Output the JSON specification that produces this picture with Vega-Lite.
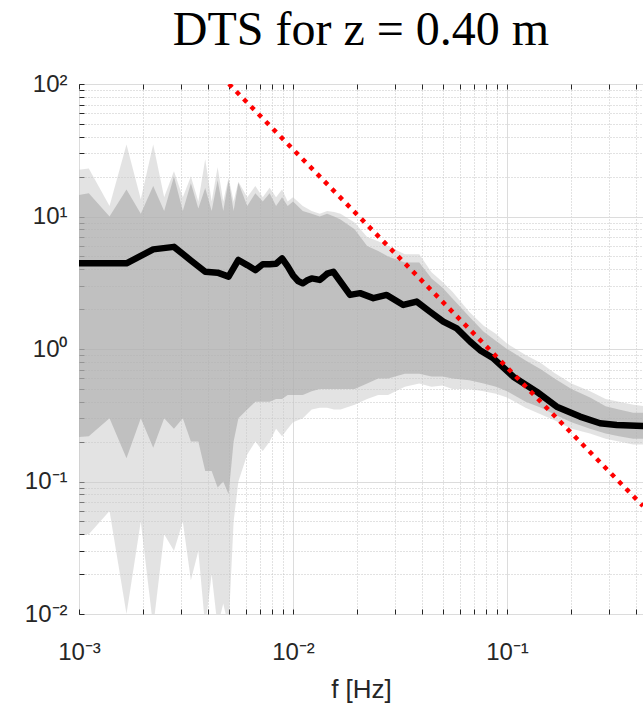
{
  "$schema": "https://vega.github.io/schema/vega-lite/v6.json",
  "width": 564,
  "height": 530,
  "autosize": "none",
  "padding": {"left": 79, "top": 84, "right": 0, "bottom": 92},
  "background": "white",
  "title": {"text": "DTS for z = 0.40 m", "font": "Liberation Serif", "fontSize": 48, "fontWeight": "normal", "color": "#000000", "anchor": "middle", "offset": 17},
  "config": {
    "view": {"stroke": "#262626", "strokeWidth": 1},
    "axis": {"labelFont": "Liberation Sans", "titleFont": "Liberation Sans", "labelColor": "#262626", "titleColor": "#262626", "domain": false, "tickColor": "#262626", "labelFlush": false, "labelOverlap": false, "labelBound": false}
  },
  "datasets": {
    "band": [
      {"f": 0.000556, "lo2": 0.04, "lo": 0.2, "hi": 12, "hi2": 20},
      {"f": 0.001111, "lo2": 0.04, "lo": 0.22, "hi": 15, "hi2": 23},
      {"f": 0.001389, "lo2": 0.06, "lo": 0.3, "hi": 10, "hi2": 12},
      {"f": 0.001667, "lo2": 0.01, "lo": 0.15, "hi": 16, "hi2": 35},
      {"f": 0.001944, "lo2": 0.05, "lo": 0.3, "hi": 10.5, "hi2": 13.5},
      {"f": 0.002222, "lo2": 0.008, "lo": 0.18, "hi": 17, "hi2": 35},
      {"f": 0.0025, "lo2": 0.04, "lo": 0.3, "hi": 11, "hi2": 14},
      {"f": 0.002778, "lo2": 0.03, "lo": 0.25, "hi": 20, "hi2": 22},
      {"f": 0.003056, "lo2": 0.05, "lo": 0.3, "hi": 11, "hi2": 14},
      {"f": 0.003333, "lo2": 0.018, "lo": 0.2, "hi": 17.8, "hi2": 20},
      {"f": 0.003611, "lo2": 0.03, "lo": 0.2, "hi": 11.5, "hi2": 13},
      {"f": 0.003889, "lo2": 0.008, "lo": 0.12, "hi": 16.4, "hi2": 27},
      {"f": 0.004167, "lo2": 0.02, "lo": 0.12, "hi": 11, "hi2": 13},
      {"f": 0.004444, "lo2": 0.008, "lo": 0.09, "hi": 18.8, "hi2": 23.5},
      {"f": 0.004722, "lo2": 0.012, "lo": 0.1, "hi": 11, "hi2": 13},
      {"f": 0.005, "lo2": 0.008, "lo": 0.08, "hi": 18.8, "hi2": 19.6},
      {"f": 0.005278, "lo2": 0.05, "lo": 0.2, "hi": 11, "hi2": 13},
      {"f": 0.005556, "lo2": 0.1, "lo": 0.3, "hi": 18, "hi2": 18.3},
      {"f": 0.006111, "lo2": 0.16, "lo": 0.35, "hi": 12, "hi2": 14},
      {"f": 0.006667, "lo2": 0.2, "lo": 0.4, "hi": 15, "hi2": 17},
      {"f": 0.007222, "lo2": 0.17, "lo": 0.4, "hi": 13, "hi2": 14},
      {"f": 0.007778, "lo2": 0.2, "lo": 0.4, "hi": 15, "hi2": 16.5},
      {"f": 0.008333, "lo2": 0.25, "lo": 0.42, "hi": 12, "hi2": 14},
      {"f": 0.008889, "lo2": 0.22, "lo": 0.42, "hi": 14, "hi2": 16},
      {"f": 0.009444, "lo2": 0.25, "lo": 0.45, "hi": 12, "hi2": 13},
      {"f": 0.01, "lo2": 0.28, "lo": 0.45, "hi": 13, "hi2": 14},
      {"f": 0.01111, "lo2": 0.3, "lo": 0.45, "hi": 11, "hi2": 12},
      {"f": 0.01222, "lo2": 0.35, "lo": 0.48, "hi": 10.5, "hi2": 11},
      {"f": 0.01333, "lo2": 0.36, "lo": 0.5, "hi": 10, "hi2": 10.5},
      {"f": 0.01444, "lo2": 0.36, "lo": 0.5, "hi": 10.5, "hi2": 11},
      {"f": 0.01556, "lo2": 0.35, "lo": 0.5, "hi": 10, "hi2": 10.8},
      {"f": 0.01667, "lo2": 0.35, "lo": 0.5, "hi": 9.5, "hi2": 10.5},
      {"f": 0.0194, "lo2": 0.38, "lo": 0.5, "hi": 8, "hi2": 9},
      {"f": 0.0222, "lo2": 0.42, "lo": 0.55, "hi": 6, "hi2": 7},
      {"f": 0.025, "lo2": 0.45, "lo": 0.6, "hi": 5.5, "hi2": 6.5},
      {"f": 0.0278, "lo2": 0.45, "lo": 0.6, "hi": 5, "hi2": 6},
      {"f": 0.0333, "lo2": 0.52, "lo": 0.65, "hi": 4.5, "hi2": 5.2},
      {"f": 0.0389, "lo2": 0.55, "lo": 0.65, "hi": 4.5, "hi2": 5.2},
      {"f": 0.0444, "lo2": 0.52, "lo": 0.62, "hi": 3.4, "hi2": 3.8},
      {"f": 0.05, "lo2": 0.53, "lo": 0.62, "hi": 2.9, "hi2": 3.2},
      {"f": 0.0556, "lo2": 0.5, "lo": 0.6, "hi": 2.4, "hi2": 2.7},
      {"f": 0.0667, "lo2": 0.5, "lo": 0.58, "hi": 1.75, "hi2": 1.9},
      {"f": 0.0778, "lo2": 0.48, "lo": 0.55, "hi": 1.35, "hi2": 1.5},
      {"f": 0.0889, "lo2": 0.46, "lo": 0.52, "hi": 1.15, "hi2": 1.3},
      {"f": 0.1, "lo2": 0.43, "lo": 0.48, "hi": 1.0, "hi2": 1.1},
      {"f": 0.1222, "lo2": 0.36, "lo": 0.4, "hi": 0.82, "hi2": 0.9},
      {"f": 0.1444, "lo2": 0.32, "lo": 0.36, "hi": 0.7, "hi2": 0.78},
      {"f": 0.1667, "lo2": 0.29, "lo": 0.32, "hi": 0.6, "hi2": 0.66},
      {"f": 0.2, "lo2": 0.25, "lo": 0.28, "hi": 0.5, "hi2": 0.55},
      {"f": 0.2444, "lo2": 0.23, "lo": 0.25, "hi": 0.43, "hi2": 0.48},
      {"f": 0.2889, "lo2": 0.21, "lo": 0.23, "hi": 0.37, "hi2": 0.42},
      {"f": 0.3333, "lo2": 0.2, "lo": 0.22, "hi": 0.35, "hi2": 0.4},
      {"f": 0.3889, "lo2": 0.19, "lo": 0.21, "hi": 0.33, "hi2": 0.38},
      {"f": 0.4444, "lo2": 0.19, "lo": 0.21, "hi": 0.33, "hi2": 0.37}
    ],
    "mean": [
      {"f": 0.000556, "S": 4.43},
      {"f": 0.001111, "S": 4.43},
      {"f": 0.001667, "S": 4.43},
      {"f": 0.002222, "S": 5.65},
      {"f": 0.002778, "S": 5.9},
      {"f": 0.003333, "S": 4.66},
      {"f": 0.003889, "S": 3.83},
      {"f": 0.004444, "S": 3.77},
      {"f": 0.005, "S": 3.52},
      {"f": 0.005556, "S": 4.7},
      {"f": 0.006111, "S": 4.3},
      {"f": 0.006667, "S": 3.94},
      {"f": 0.007222, "S": 4.36},
      {"f": 0.007778, "S": 4.36},
      {"f": 0.008333, "S": 4.4},
      {"f": 0.008889, "S": 4.83},
      {"f": 0.009444, "S": 4.2},
      {"f": 0.01, "S": 3.6},
      {"f": 0.01056, "S": 3.26},
      {"f": 0.01111, "S": 3.13},
      {"f": 0.01167, "S": 3.3},
      {"f": 0.01222, "S": 3.41},
      {"f": 0.01278, "S": 3.37},
      {"f": 0.01333, "S": 3.32},
      {"f": 0.01389, "S": 3.5},
      {"f": 0.01444, "S": 3.7},
      {"f": 0.01543, "S": 3.83},
      {"f": 0.01847, "S": 2.56},
      {"f": 0.02057, "S": 2.64},
      {"f": 0.02373, "S": 2.42},
      {"f": 0.02741, "S": 2.56},
      {"f": 0.03276, "S": 2.15},
      {"f": 0.03785, "S": 2.28},
      {"f": 0.04367, "S": 1.91},
      {"f": 0.0504, "S": 1.61},
      {"f": 0.05821, "S": 1.43},
      {"f": 0.06717, "S": 1.14},
      {"f": 0.07478, "S": 0.98},
      {"f": 0.0863, "S": 0.85},
      {"f": 0.107, "S": 0.618},
      {"f": 0.1376, "S": 0.476},
      {"f": 0.1707, "S": 0.367},
      {"f": 0.2193, "S": 0.309},
      {"f": 0.272, "S": 0.275},
      {"f": 0.3255, "S": 0.267},
      {"f": 0.432, "S": 0.262},
      {"f": 0.5, "S": 0.26}
    ],
    "ref": [
      {"f": 0.00502, "S": 100},
      {"f": 0.432, "S": 0.0653}
    ]
  },
  "resolve": {"axis": {"x": "independent"}},
  "layer": [
    {
      "data": {"name": "band"},
      "mark": {"type": "area", "color": "#c8c8c8", "opacity": 0.5, "clip": true},
      "encoding": {
        "x": {"field": "f", "type": "quantitative", "scale": {"type": "log", "domain": [0.001, 0.432], "nice": false},
          "axis": {"orient": "bottom", "title": "f [Hz]", "titleFontSize": 26, "titleFontWeight": "normal", "titleBaseline": "alphabetic", "titleY": 83,
            "values": [0.001, 0.002, 0.003, 0.004, 0.005, 0.006, 0.007, 0.008, 0.009, 0.01, 0.02, 0.03, 0.04, 0.05, 0.06, 0.07, 0.08, 0.09, 0.1, 0.2, 0.3, 0.4],
            "labelExpr": "datum.value == 0.001 ? '10⁻³' : datum.value == 0.01 ? '10⁻²' : datum.value == 0.1 ? '10⁻¹' : ''",
            "labelFontSize": 24, "labelBaseline": "top", "labelPadding": 31, "tickSize": -5,
            "grid": true,
            "gridColor": {"condition": {"test": "datum.value == 0.001 || datum.value == 0.01 || datum.value == 0.1", "value": "#dcdcdc"}, "value": "#c4c4c4"},
            "gridDash": {"condition": {"test": "datum.value == 0.001 || datum.value == 0.01 || datum.value == 0.1", "value": []}, "value": [1, 2]}
          }},
        "y": {"field": "lo2", "type": "quantitative", "scale": {"type": "log", "domain": [0.01, 100], "nice": false},
          "axis": {"orient": "left", "title": null,
            "values": [0.01, 0.02, 0.03, 0.04, 0.05, 0.06, 0.07, 0.08, 0.09, 0.1, 0.2, 0.3, 0.4, 0.5, 0.6, 0.7, 0.8, 0.9, 1, 2, 3, 4, 5, 6, 7, 8, 9, 10, 20, 30, 40, 50, 60, 70, 80, 90, 100],
            "labelExpr": "datum.value == 100 ? '10²' : datum.value == 10 ? '10¹' : datum.value == 1 ? '10⁰' : datum.value == 0.1 ? '10⁻¹' : datum.value == 0.01 ? '10⁻²' : ''",
            "labelFontSize": 24, "labelPadding": 17, "tickSize": -5, "labelBaseline": "middle", "labelAlign": "right",
            "grid": true,
            "gridColor": {"condition": {"test": "datum.value == 0.01 || datum.value == 0.1 || datum.value == 1 || datum.value == 10 || datum.value == 100", "value": "#dcdcdc"}, "value": "#c4c4c4"},
            "gridDash": {"condition": {"test": "datum.value == 0.01 || datum.value == 0.1 || datum.value == 1 || datum.value == 10 || datum.value == 100", "value": []}, "value": [1, 2]}
          }},
        "y2": {"field": "hi2"}
      }
    },
    {
      "data": {"name": "band"},
      "mark": {"type": "area", "color": "#a8a8a8", "opacity": 0.6, "clip": true},
      "encoding": {
        "x": {"field": "f", "type": "quantitative", "scale": {"type": "log", "domain": [0.001, 0.432], "nice": false}, "axis": null},
        "y": {"field": "lo", "type": "quantitative", "scale": {"type": "log", "domain": [0.01, 100], "nice": false}, "title": null},
        "y2": {"field": "hi"}
      }
    },
    {
      "data": {"name": "mean"},
      "mark": {"type": "line", "color": "#000000", "strokeWidth": 6.5, "strokeJoin": "round", "clip": true},
      "encoding": {
        "x": {"field": "f", "type": "quantitative", "scale": {"type": "log", "domain": [0.001, 0.432], "nice": false},
          "axis": {"orient": "top", "title": null, "labels": false, "grid": false, "domain": false, "tickSize": -5,
            "values": [0.001, 0.002, 0.003, 0.004, 0.005, 0.006, 0.007, 0.008, 0.009, 0.01, 0.02, 0.03, 0.04, 0.05, 0.06, 0.07, 0.08, 0.09, 0.1, 0.2, 0.3, 0.4]}},
        "y": {"field": "S", "type": "quantitative", "scale": {"type": "log", "domain": [0.01, 100], "nice": false}, "title": null}
      }
    },
    {
      "data": {"name": "ref"},
      "mark": {"type": "line", "color": "#ff0000", "strokeWidth": 4.5, "strokeDash": [4.5, 6], "strokeCap": "butt", "clip": true},
      "encoding": {
        "x": {"field": "f", "type": "quantitative", "scale": {"type": "log", "domain": [0.001, 0.432], "nice": false}, "axis": null},
        "y": {"field": "S", "type": "quantitative", "scale": {"type": "log", "domain": [0.01, 100], "nice": false}, "title": null}
      }
    }
  ]
}
